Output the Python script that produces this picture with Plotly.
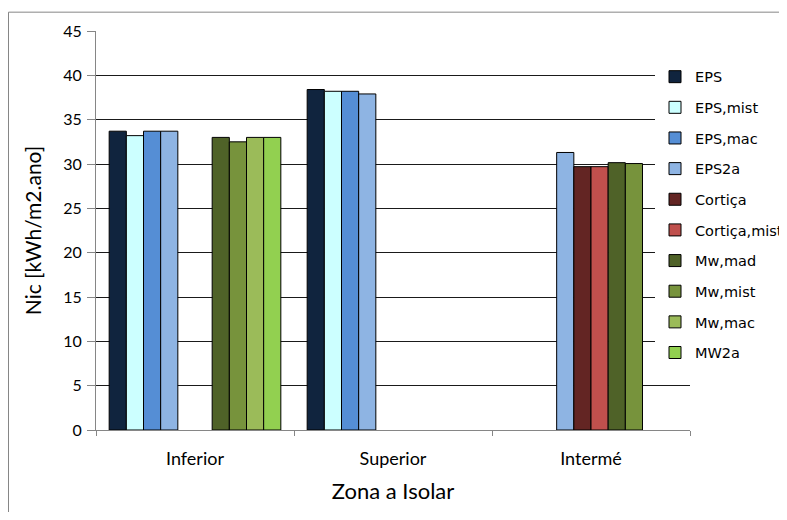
import plotly.graph_objects as go

categories = ["Inferior", "Superior", "Intermé"]

series_names = ["EPS", "EPS,mist", "EPS,mac", "EPS2a", "Cortiça", "Cortiça,mist",
                "Mw,mad", "Mw,mist", "Mw,mac", "MW2a"]

eps = [33.7, 38.4, None]
eps_mist = [33.2, 38.2, None]
eps_mac = [33.7, 38.2, None]
eps2a = [33.7, 37.9, 31.3]
cortica = [None, None, 29.7]
cortica_mist = [None, None, 29.7]
mw_mad = [33.0, None, 30.15]
mw_mist = [32.5, None, 30.05]
mw_mac = [33.0, None, None]
mw2a = [33.0, None, None]

series_values = [eps, eps_mist, eps_mac, eps2a, cortica, cortica_mist,
                 mw_mad, mw_mist, mw_mac, mw2a]

colors = ["#10243E", "#CCFFFF", "#558ED5", "#8EB4E3", "#632523", "#C0504D",
          "#4F6228", "#77933C", "#9BBB59", "#92D050"]

y_ticks = [0, 5, 10, 15, 20, 25, 30, 35, 40, 45]

fig = go.Figure()
for name, vals, col in zip(series_names, series_values, colors):
    fig.add_trace(go.Bar(
        x=categories, y=vals, name=name, legendgroup=name,
        marker=dict(color=col, line=dict(color="#000000", width=1)),
    ))

# page body has an 8px margin; work in screenshot coordinates and shift.
# The figure is made wider than the window so the legend fits without
# plotly shrinking the plot area (the extra part is simply off-screen).
OFF = 8
W, H = 840, 520 - 2 * OFF
L, R, T, B = 96 - OFF, 690 - OFF, 31 - OFF, 433.5 - OFF
pw, ph = R - L, B - T

def px_x(p):
    return (p - OFF - L) / pw

def px_y(p):
    return (B - (p - OFF)) / ph

fig.update_layout(
    width=W, height=H,
    margin=dict(l=L, r=W - R, t=T, b=H - B, pad=0),
    paper_bgcolor="white", plot_bgcolor="white",
    barmode="group", bargap=0.133, bargroupgap=0,
    font=dict(family="Lato", color="#000000"),
    showlegend=True,
    legend=dict(
        x=px_x(655), y=px_y(61), xanchor="left", yanchor="top",
        bgcolor="white", borderwidth=0,
        font=dict(family="DejaVu Sans", size=14.5, color="#000000"),
        traceorder="grouped", tracegroupgap=8.8,
    ),
    xaxis=dict(
        title=dict(text="Zona a Isolar", font=dict(family="Lato", size=22), standoff=16),
        showline=True, linecolor="#868686", linewidth=1,
        ticks="outside", tickson="boundaries", ticklen=5, tickcolor="#868686",
        tickfont=dict(family="Lato", size=18),
        ticklabelstandoff=12,
        showgrid=False,
    ),
    yaxis=dict(
        title=dict(text="Nic [kWh/m2.ano]", font=dict(family="Lato", size=21), standoff=15),
        range=[0, 45], tickvals=y_ticks, ticktext=[str(v) for v in y_ticks],
        showline=True, linecolor="#868686", linewidth=1,
        ticks="outside", ticklen=8, tickcolor="#868686",
        tickfont=dict(family="Lato", size=16),
        ticklabelstandoff=2,
        showgrid=True, gridcolor="#1a1a1a", gridwidth=1,
        zeroline=False,
    ),
    shapes=[dict(
        type="rect", xref="paper", yref="paper",
        x0=px_x(8.5), x1=2.0, y0=-1.0, y1=px_y(12),
        line=dict(color="#868686", width=1), fillcolor="rgba(0,0,0,0)",
        layer="below",
    )],
)

fig.write_html("out.html")
